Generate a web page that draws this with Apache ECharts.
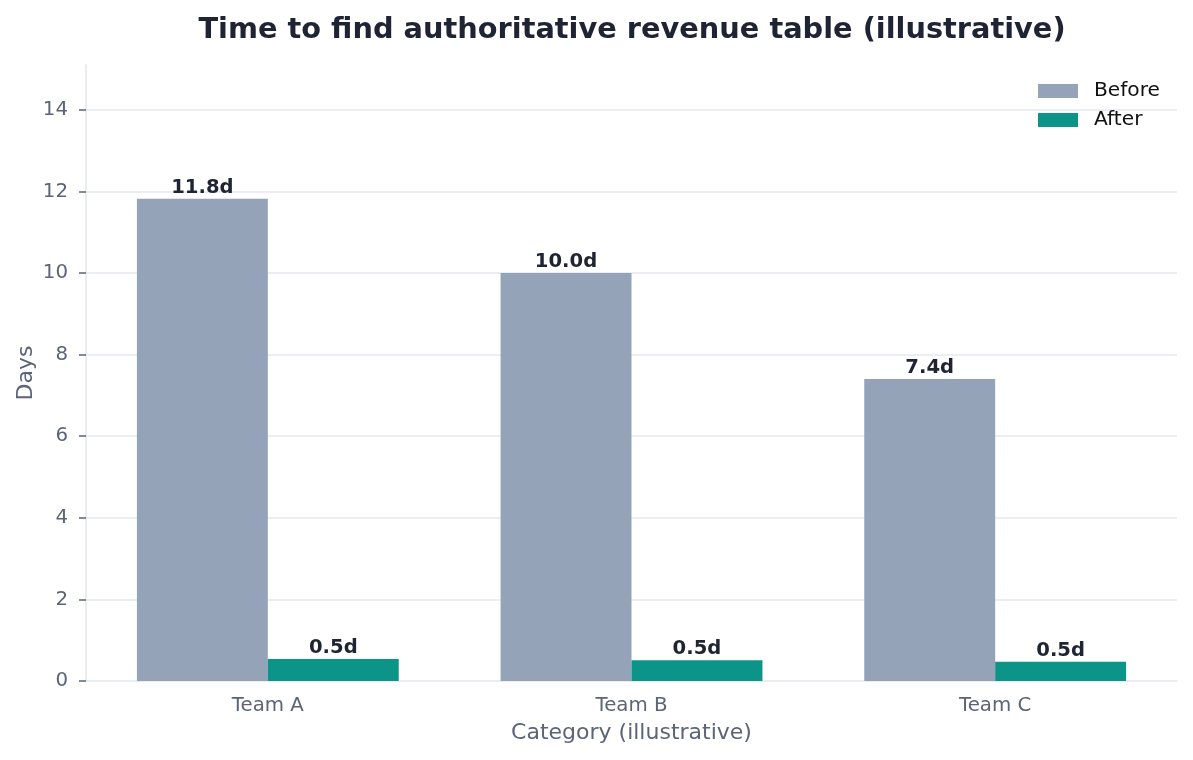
<!DOCTYPE html>
<html>
<head>
<meta charset="utf-8">
<script src="https://cdn.jsdelivr.net/npm/echarts@6/dist/echarts.min.js"></script>
<style>html,body{margin:0;padding:0;background:#fff}#c{width:1193px;height:760px}</style>
</head>
<body>
<div id="c"></div>
<script>
const categories = ['Team A', 'Team B', 'Team C'];
const beforeValues = [11.82, 10.0, 7.4];
const afterValues = [0.54, 0.51, 0.47];
const yTicks = [0, 2, 4, 6, 8, 10, 12, 14];

const font = 'DejaVu Sans';
const chart = echarts.init(document.getElementById('c'));
const labelCfg = {
  show: true, position: 'top', distance: 1,
  fontFamily: font, fontSize: 19.6, fontWeight: 'bold', color: '#1e2433',
  formatter: p => p.value.toFixed(1) + 'd'
};
chart.setOption({
  backgroundColor: '#fff',
  animation: false,
  title: {
    text: 'Time to find authoritative revenue table (illustrative)',
    left: 627, top: 11, textAlign: 'center',
    textStyle: { fontFamily: font, fontSize: 28.8, fontWeight: 'bold', color: '#1e2433' }
  },
  legend: {
    right: 28, top: 76, orient: 'vertical', itemWidth: 40, itemHeight: 14, itemGap: 9,
    icon: 'rect',
    textStyle: { fontFamily: font, fontSize: 20.2, color: '#111', padding: [0, 0, 0, 11] },
    data: ['Before', 'After']
  },
  grid: { left: 86, right: 16, top: 65, bottom: 79, containLabel: false },
  xAxis: {
    type: 'category', data: categories,
    name: 'Category (illustrative)', nameLocation: 'middle', nameGap: 41,
    nameTextStyle: { fontFamily: font, fontSize: 22, color: '#5b6478' },
    axisLine: { lineStyle: { color: '#e2e6ec', width: 1.5 } },
    axisTick: { alignWithLabel: true, length: 8, lineStyle: { color: '#5b6478', width: 1.5 } },
    axisLabel: { fontFamily: font, fontSize: 19.8, color: '#5b6478', margin: 15 }
  },
  yAxis: {
    type: 'value', min: 0, max: 15.1, interval: 2,
    name: 'Days', nameLocation: 'middle', nameGap: 49, nameMoveOverlap: false,
    nameTextStyle: { fontFamily: font, fontSize: 22, color: '#5b6478' },
    axisLine: { show: true, lineStyle: { color: '#e2e6ec', width: 1.5 } },
    axisTick: { show: true, length: 7, customValues: yTicks, lineStyle: { color: '#5b6478', width: 1.5 } },
    axisLabel: { fontFamily: font, fontSize: 19.8, color: '#5b6478', margin: 18, customValues: yTicks },
    splitLine: { show: true, showMinLine: false, lineStyle: { color: '#e5e8ee', width: 1.5 } }
  },
  series: [
    { name: 'Before', type: 'bar', data: beforeValues, barWidth: '36%', barGap: '0%',
      itemStyle: { color: '#94a3b8' }, label: labelCfg },
    { name: 'After', type: 'bar', data: afterValues, barWidth: '36%', barGap: '0%',
      itemStyle: { color: '#0d9488' }, label: labelCfg }
  ]
});
</script>
</body>
</html>
